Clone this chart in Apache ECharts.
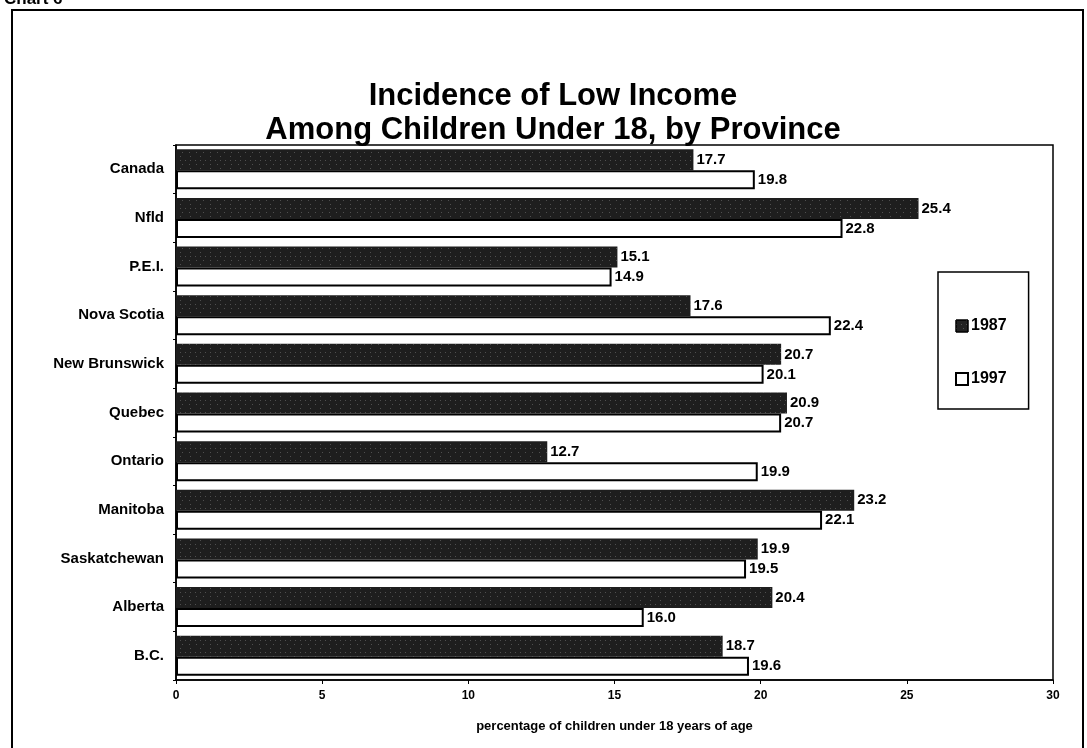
<!DOCTYPE html>
<html>
<head>
<meta charset="utf-8">
<script src="https://cdn.jsdelivr.net/npm/echarts@6/dist/echarts.min.js"></script>
<style>
  html, body { margin: 0; padding: 0; background: #fff; }
  #chart { width: 1087px; height: 748px; }
</style>
</head>
<body>
<div id="chart"></div>
<script>
// provinces, top to bottom
const provinces = ["Canada", "Nfld", "P.E.I.", "Nova Scotia", "New Brunswick", "Quebec",
  "Ontario", "Manitoba", "Saskatchewan", "Alberta", "B.C."];
const values1987 = [17.7, 25.4, 15.1, 17.6, 20.7, 20.9, 12.7, 23.2, 19.9, 20.4, 18.7];
const values1997 = [19.8, 22.8, 14.9, 22.4, 20.1, 20.7, 19.9, 22.1, 19.5, 16.0, 19.6];
const xTicks = [0, 5, 10, 15, 20, 25, 30];

const FONT = "'Liberation Sans', Arial, sans-serif";

const chart = echarts.init(document.getElementById("chart"));

const labelStyle = {
  show: true,
  position: "right",
  distance: 3,
  color: "#000",
  fontFamily: FONT,
  fontWeight: "bold",
  fontSize: 15,
  formatter: (p) => p.value.toFixed(1),
};

const option = {
  backgroundColor: "#fff",
  animation: false,
  title: {
    text: "Incidence of Low Income\nAmong Children Under 18, by Province",
    left: 548,
    top: 74,
    textAlign: "center",
    textStyle: {
      fontFamily: FONT,
      fontWeight: "bold",
      fontSize: 31,
      lineHeight: 34,
      color: "#000",
    },
  },
  graphic: [
    // outer frame of the chart
    {
      type: "rect",
      shape: { x: 12, y: 10, width: 1071, height: 740 },
      style: { fill: "none", stroke: "#000", lineWidth: 2 },
      silent: true,
    },
    {
      type: "text",
      left: 4,
      top: -9,
      style: { text: "Chart 6", fontFamily: FONT, fontWeight: "bold", fontSize: 17, fill: "#000" },
    },
  ],
  legend: {
    orient: "vertical",
    left: 938,
    top: 272,
    padding: [46, 22, 22, 17],
    itemGap: 37,
    itemWidth: 12,
    itemHeight: 12,
    borderColor: "#000",
    borderWidth: 1.5,
    textStyle: { fontFamily: FONT, fontWeight: "bold", fontSize: 16, color: "#000", padding: [0, 0, 0, -2] },
    data: [
      { name: "1987", icon: "rect", itemStyle: { color: "#222", borderColor: "#000", borderWidth: 1 } },
      { name: "1997", icon: "rect", itemStyle: { color: "#fff", borderColor: "#000", borderWidth: 2 } },
    ],
  },
  grid: {
    left: 176,
    right: 34,
    top: 145,
    bottom: 68,
    show: true,
    borderColor: "#000",
    borderWidth: 1.5,
  },
  xAxis: {
    type: "value",
    min: 0,
    max: 30,
    interval: 5,
    name: "percentage of children under 18 years of age",
    nameLocation: "middle",
    nameGap: 40,
    nameTextStyle: { fontFamily: FONT, fontWeight: "bold", fontSize: 13, color: "#000" },
    axisLine: { show: true, lineStyle: { color: "#000", width: 1.5 } },
    axisTick: { show: true, length: 4, lineStyle: { color: "#000" } },
    axisLabel: {
      fontFamily: FONT, fontWeight: "bold", fontSize: 12, color: "#000", margin: 10,
      formatter: (v) => (xTicks.includes(v) ? String(v) : ""),
    },
    splitLine: { show: false },
  },
  yAxis: {
    type: "category",
    inverse: true,
    data: provinces,
    axisLine: { show: true, lineStyle: { color: "#000", width: 1.5 } },
    axisTick: { show: true, length: 3, lineStyle: { color: "#000" } },
    axisLabel: { fontFamily: FONT, fontWeight: "bold", fontSize: 15, color: "#000", margin: 12 },
  },
  series: [
    {
      name: "1987",
      type: "bar",
      data: values1987,
      barWidth: 21,
      barGap: "0%",
      itemStyle: {
        color: "#1e1e1e",
        decal: {
          symbol: "rect",
          symbolSize: 1,
          color: "rgba(255,255,255,0.22)",
          dashArrayX: [[1, 6], [1, 9], [1, 4]],
          dashArrayY: [1, 3],
          rotation: 0,
        },
      },
      label: labelStyle,
    },
    {
      name: "1997",
      type: "bar",
      data: values1997,
      barWidth: 19,
      itemStyle: { color: "#fff", borderColor: "#000", borderWidth: 2 },
      label: labelStyle,
    },
  ],
};

chart.setOption(option);
</script>
</body>
</html>
